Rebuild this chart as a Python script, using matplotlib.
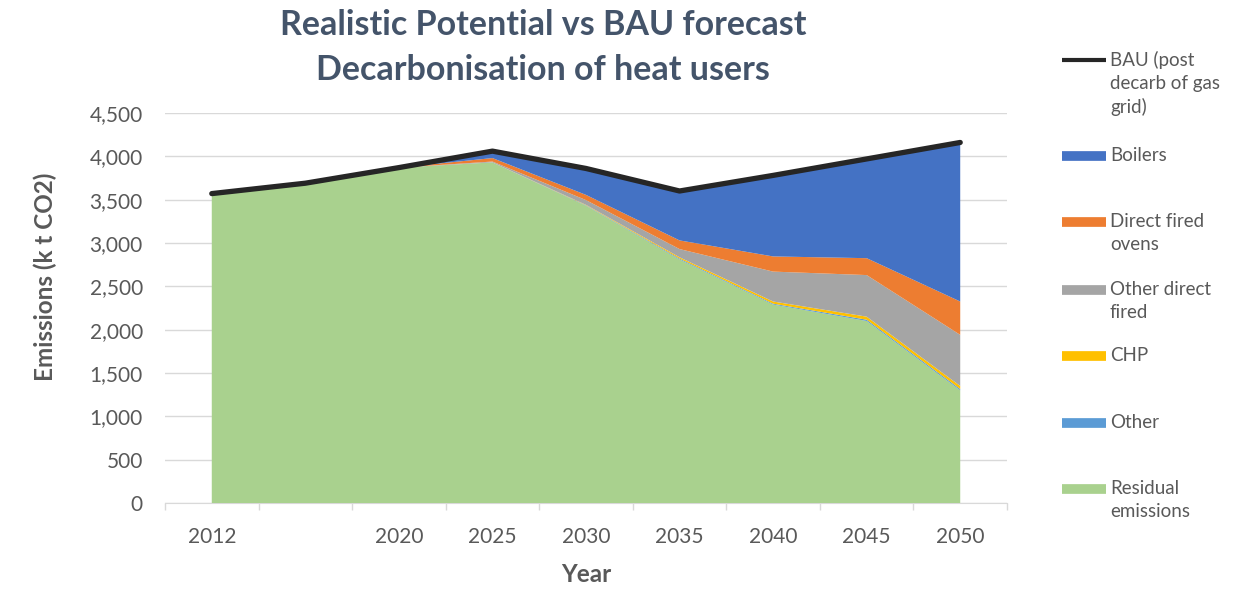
import matplotlib
matplotlib.use("Agg")
import matplotlib.pyplot as plt
from matplotlib.lines import Line2D
import numpy as np

years = ["2012", "", "2020", "2025", "2030", "2035", "2040", "2045", "2050"]
residual = [3570, 3690, 3870, 3930, 3430, 2810, 2290, 2100, 1300]
other = [0, 0, 0, 0, 5, 10, 10, 15, 15]
chp = [0, 0, 0, 0, 5, 15, 25, 35, 35]
other_direct = [0, 0, 0, 10, 55, 95, 345, 480, 590]
direct_ovens = [0, 0, 0, 40, 60, 100, 175, 195, 385]
boilers = [0, 0, 0, 80, 310, 570, 935, 1145, 1835]
bau = [3570, 3690, 3870, 4060, 3860, 3600, 3780, 3970, 4160]

series_labels = ["Residual\nemissions", "Other", "CHP", "Other direct\nfired",
                 "Direct fired\novens", "Boilers"]
bau_label = "BAU (post\ndecarb of gas\ngrid)"
colors = ["#A9D18E", "#5B9BD5", "#FFC000", "#A5A5A5", "#ED7D31", "#4472C4"]
bau_color = "#262626"
text_gray = "#595959"
FONT = "Lato"

fig = plt.figure(figsize=(12.53, 5.89), dpi=100)
ax = fig.add_axes([165/1253, 1-503/589, (1007-165)/1253, (503-113)/589])

x = np.arange(len(years))
ax.stackplot(x, residual, other, chp, other_direct, direct_ovens, boilers,
             colors=colors, linewidth=0, zorder=2)
ax.plot(x, bau, color=bau_color, lw=3.8, solid_capstyle="round", zorder=3)

ax.set_xlim(-0.5, len(years) - 0.5)
ax.set_ylim(0, 4500)
ax.set_yticks(np.arange(0, 4501, 500))
ax.yaxis.set_major_formatter(matplotlib.ticker.FuncFormatter(lambda v, p: f"{int(v):,}"))
ax.set_xticks(x)
ax.set_xticklabels(years)
ax.set_xticks(np.arange(-0.5, len(years)), minor=True)
ax.tick_params(axis="x", which="major", length=0, pad=17, labelsize=15, labelcolor=text_gray)
ax.tick_params(axis="x", which="minor", length=5, color="#D9D9D9", width=1)
ax.tick_params(axis="y", length=0, pad=16, labelsize=15, labelcolor=text_gray)
ax.grid(axis="y", color="#D9D9D9", lw=1, zorder=0)
ax.set_axisbelow(True)
for s in ["left", "right", "top"]:
    ax.spines[s].set_visible(False)
ax.spines["bottom"].set_color("#D9D9D9")
ax.spines["bottom"].set_zorder(1)

for lab in ax.get_xticklabels() + ax.get_yticklabels():
    lab.set_family(FONT)

yl = ax.set_ylabel("Emissions (k t CO2)", fontsize=17.5, fontweight="bold", color=text_gray,
                   family=FONT)
ax.yaxis.set_label_coords((45-165)/842, (503-277)/390)
yl.set_va("center")
xl = ax.set_xlabel("Year", fontsize=17.5, fontweight="bold", color=text_gray, family=FONT)
ax.xaxis.set_label_coords(0.5, (503-575)/390)
xl.set_va("center")

fig.text(543/1253, 1-25/589, "Realistic Potential vs BAU forecast", ha="center", va="center",
         fontsize=24.5, fontweight="bold", color="#44546A", family=FONT)
fig.text(543/1253, 1-70/589, "Decarbonisation of heat users", ha="center", va="center",
         fontsize=24.5, fontweight="bold", color="#44546A", family=FONT)

# Legend (manual, Excel-like)
leg_labels = [bau_label] + series_labels[::-1]
leg_colors = [bau_color] + colors[::-1]
leg_y = [60, 156, 222, 290, 356, 423, 489]
for i, (lab, col, yy) in enumerate(zip(leg_labels, leg_colors, leg_y)):
    yf = 1 - yy/589
    lw = 3 if i == 0 else 7
    fig.add_artist(Line2D([1062/1253, 1106/1253], [yf, yf], color=col, lw=lw,
                          transform=fig.transFigure, solid_capstyle="butt"))
    fig.text(1110/1253, yf + 9/589, lab, ha="left", va="top", fontsize=13.5,
             color=text_gray, family=FONT, linespacing=1.4)

fig.savefig("out.png", dpi=100, facecolor="white")
